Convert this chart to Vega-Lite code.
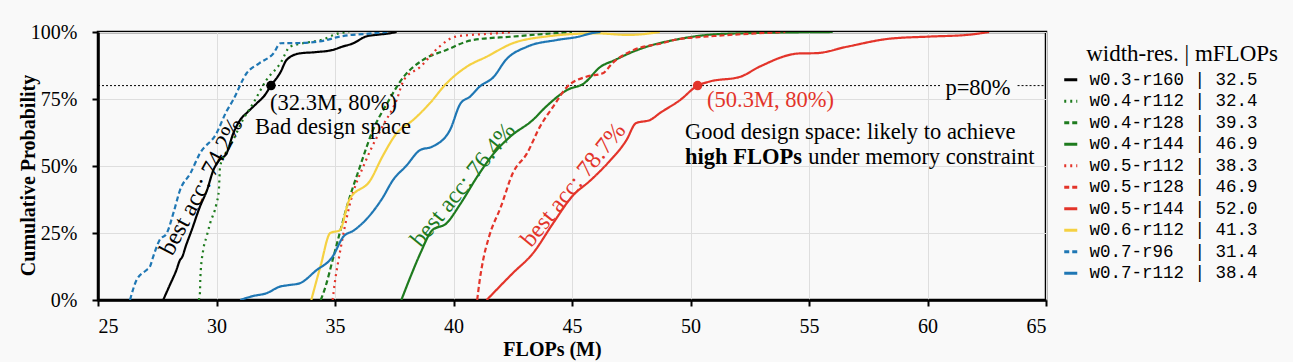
{
  "$schema": "https://vega.github.io/schema/vega-lite/v6.json",
  "width": 948,
  "height": 268,
  "autosize": {"type": "none"},
  "padding": {"left": 98, "top": 32, "right": 247, "bottom": 62},
  "background": "#f9f9f9",
  "title": {
    "text": "width-res. | mFLOPs", "anchor": "end", "align": "right", "frame": "group", "orient": "top",
    "offset": 0, "dx": 232, "dy": 55, "baseline": "middle",
    "font": "Liberation Serif", "fontSize": 23, "fontWeight": "normal", "color": "#000000"
  },
  "config": {
    "view": {"stroke": "#000000", "strokeWidth": 2.5, "fill": "#f9f9f9"},
    "axis": {
      "domainColor": "#000000", "domainWidth": 2.5,
      "tickColor": "#000000", "tickWidth": 2, "tickSize": 6,
      "gridColor": "#dedede", "gridWidth": 1,
      "labelFont": "Liberation Serif", "labelFontSize": 20, "labelColor": "#000000",
      "titleFont": "Liberation Serif", "titleFontSize": 20, "titleFontWeight": "bold", "titleColor": "#000000"
    },
    "legend": {
      "orient": "none", "legendX": 964, "legendY": 39, "padding": 0,
      "labelFont": "Liberation Mono", "labelFontSize": 17.5, "labelColor": "#000000", "labelLimit": 400,
      "labelOffset": 10, "rowPadding": 2.5,
      "symbolType": "stroke", "symbolSize": 170, "symbolStrokeWidth": 3
    }
  },
  "layer": [
    {
      "data": {"values": [
        {"x": 25, "x2": 60.6, "y": 0.8},
        {"x": 63.8, "x2": 65, "y": 0.8}
      ]},
      "mark": {"type": "rule", "color": "#000000", "strokeWidth": 1, "strokeDash": [2, 2]},
      "encoding": {
        "x": {"field": "x", "type": "quantitative"},
        "x2": {"field": "x2"},
        "y": {"field": "y", "type": "quantitative"}
      }
    },
    {
      "data": {"values": [
        {"s": "w0.3-r160 | 32.5", "x": 27.75, "y": 0},
        {"s": "w0.3-r160 | 32.5", "x": 28.0, "y": 0.05},
        {"s": "w0.3-r160 | 32.5", "x": 28.3, "y": 0.11},
        {"s": "w0.3-r160 | 32.5", "x": 28.46, "y": 0.149},
        {"s": "w0.3-r160 | 32.5", "x": 28.55, "y": 0.16},
        {"s": "w0.3-r160 | 32.5", "x": 28.7, "y": 0.2},
        {"s": "w0.3-r160 | 32.5", "x": 28.95, "y": 0.26},
        {"s": "w0.3-r160 | 32.5", "x": 29.3, "y": 0.348},
        {"s": "w0.3-r160 | 32.5", "x": 29.6, "y": 0.41},
        {"s": "w0.3-r160 | 32.5", "x": 29.87, "y": 0.485},
        {"s": "w0.3-r160 | 32.5", "x": 30.1, "y": 0.52},
        {"s": "w0.3-r160 | 32.5", "x": 30.43, "y": 0.548},
        {"s": "w0.3-r160 | 32.5", "x": 30.7, "y": 0.62},
        {"s": "w0.3-r160 | 32.5", "x": 31.0, "y": 0.672},
        {"s": "w0.3-r160 | 32.5", "x": 31.3, "y": 0.7},
        {"s": "w0.3-r160 | 32.5", "x": 31.7, "y": 0.734},
        {"s": "w0.3-r160 | 32.5", "x": 32.0, "y": 0.76},
        {"s": "w0.3-r160 | 32.5", "x": 32.3, "y": 0.8},
        {"s": "w0.3-r160 | 32.5", "x": 32.7, "y": 0.85},
        {"s": "w0.3-r160 | 32.5", "x": 32.96, "y": 0.896},
        {"s": "w0.3-r160 | 32.5", "x": 33.5, "y": 0.92},
        {"s": "w0.3-r160 | 32.5", "x": 34.2, "y": 0.925},
        {"s": "w0.3-r160 | 32.5", "x": 34.9, "y": 0.933},
        {"s": "w0.3-r160 | 32.5", "x": 35.3, "y": 0.945},
        {"s": "w0.3-r160 | 32.5", "x": 35.77, "y": 0.958},
        {"s": "w0.3-r160 | 32.5", "x": 36.3, "y": 0.983},
        {"s": "w0.3-r160 | 32.5", "x": 36.8, "y": 0.99},
        {"s": "w0.3-r160 | 32.5", "x": 37.3, "y": 0.995},
        {"s": "w0.3-r160 | 32.5", "x": 37.6, "y": 1.0},

        {"s": "w0.4-r112 | 32.4", "x": 29.25, "y": 0},
        {"s": "w0.4-r112 | 32.4", "x": 29.3, "y": 0.025},
        {"s": "w0.4-r112 | 32.4", "x": 29.32, "y": 0.087},
        {"s": "w0.4-r112 | 32.4", "x": 29.44, "y": 0.187},
        {"s": "w0.4-r112 | 32.4", "x": 29.58, "y": 0.236},
        {"s": "w0.4-r112 | 32.4", "x": 29.73, "y": 0.286},
        {"s": "w0.4-r112 | 32.4", "x": 30.0, "y": 0.36},
        {"s": "w0.4-r112 | 32.4", "x": 30.1, "y": 0.41},
        {"s": "w0.4-r112 | 32.4", "x": 30.15, "y": 0.497},
        {"s": "w0.4-r112 | 32.4", "x": 30.4, "y": 0.55},
        {"s": "w0.4-r112 | 32.4", "x": 30.7, "y": 0.597},
        {"s": "w0.4-r112 | 32.4", "x": 31.1, "y": 0.67},
        {"s": "w0.4-r112 | 32.4", "x": 31.55, "y": 0.734},
        {"s": "w0.4-r112 | 32.4", "x": 32.1, "y": 0.82},
        {"s": "w0.4-r112 | 32.4", "x": 32.7, "y": 0.884},
        {"s": "w0.4-r112 | 32.4", "x": 33.1, "y": 0.945},
        {"s": "w0.4-r112 | 32.4", "x": 33.65, "y": 0.958},
        {"s": "w0.4-r112 | 32.4", "x": 34.4, "y": 0.97},
        {"s": "w0.4-r112 | 32.4", "x": 35.2, "y": 0.996},
        {"s": "w0.4-r112 | 32.4", "x": 35.6, "y": 1.0},

        {"s": "w0.4-r128 | 39.3", "x": 34.4, "y": 0},
        {"s": "w0.4-r128 | 39.3", "x": 34.6, "y": 0.05},
        {"s": "w0.4-r128 | 39.3", "x": 34.9, "y": 0.149},
        {"s": "w0.4-r128 | 39.3", "x": 35.2, "y": 0.25},
        {"s": "w0.4-r128 | 39.3", "x": 35.5, "y": 0.348},
        {"s": "w0.4-r128 | 39.3", "x": 36.05, "y": 0.497},
        {"s": "w0.4-r128 | 39.3", "x": 36.6, "y": 0.634},
        {"s": "w0.4-r128 | 39.3", "x": 37.2, "y": 0.734},
        {"s": "w0.4-r128 | 39.3", "x": 37.9, "y": 0.833},
        {"s": "w0.4-r128 | 39.3", "x": 38.7, "y": 0.895},
        {"s": "w0.4-r128 | 39.3", "x": 39.7, "y": 0.933},
        {"s": "w0.4-r128 | 39.3", "x": 40.8, "y": 0.97},
        {"s": "w0.4-r128 | 39.3", "x": 42.5, "y": 0.983},
        {"s": "w0.4-r128 | 39.3", "x": 44.2, "y": 0.995},
        {"s": "w0.4-r128 | 39.3", "x": 45.0, "y": 1.0},

        {"s": "w0.4-r144 | 46.9", "x": 37.8, "y": 0},
        {"s": "w0.4-r144 | 46.9", "x": 38.2, "y": 0.09},
        {"s": "w0.4-r144 | 46.9", "x": 38.6, "y": 0.174},
        {"s": "w0.4-r144 | 46.9", "x": 39.1, "y": 0.26},
        {"s": "w0.4-r144 | 46.9", "x": 39.7, "y": 0.286},
        {"s": "w0.4-r144 | 46.9", "x": 40.3, "y": 0.36},
        {"s": "w0.4-r144 | 46.9", "x": 41.0, "y": 0.46},
        {"s": "w0.4-r144 | 46.9", "x": 41.7, "y": 0.547},
        {"s": "w0.4-r144 | 46.9", "x": 42.4, "y": 0.61},
        {"s": "w0.4-r144 | 46.9", "x": 43.35, "y": 0.672},
        {"s": "w0.4-r144 | 46.9", "x": 43.9, "y": 0.721},
        {"s": "w0.4-r144 | 46.9", "x": 44.8, "y": 0.784},
        {"s": "w0.4-r144 | 46.9", "x": 45.5, "y": 0.808},
        {"s": "w0.4-r144 | 46.9", "x": 46.2, "y": 0.87},
        {"s": "w0.4-r144 | 46.9", "x": 46.8, "y": 0.895},
        {"s": "w0.4-r144 | 46.9", "x": 47.4, "y": 0.92},
        {"s": "w0.4-r144 | 46.9", "x": 48.15, "y": 0.945},
        {"s": "w0.4-r144 | 46.9", "x": 49.3, "y": 0.97},
        {"s": "w0.4-r144 | 46.9", "x": 50.7, "y": 0.989},
        {"s": "w0.4-r144 | 46.9", "x": 52.1, "y": 0.995},
        {"s": "w0.4-r144 | 46.9", "x": 56.0, "y": 1.0},

        {"s": "w0.5-r112 | 38.3", "x": 34.9, "y": 0},
        {"s": "w0.5-r112 | 38.3", "x": 35.0, "y": 0.07},
        {"s": "w0.5-r112 | 38.3", "x": 35.2, "y": 0.174},
        {"s": "w0.5-r112 | 38.3", "x": 35.6, "y": 0.348},
        {"s": "w0.5-r112 | 38.3", "x": 36.3, "y": 0.52},
        {"s": "w0.5-r112 | 38.3", "x": 37.0, "y": 0.647},
        {"s": "w0.5-r112 | 38.3", "x": 37.6, "y": 0.746},
        {"s": "w0.5-r112 | 38.3", "x": 37.9, "y": 0.82},
        {"s": "w0.5-r112 | 38.3", "x": 38.6, "y": 0.87},
        {"s": "w0.5-r112 | 38.3", "x": 39.4, "y": 0.945},
        {"s": "w0.5-r112 | 38.3", "x": 40.1, "y": 0.983},
        {"s": "w0.5-r112 | 38.3", "x": 41.8, "y": 0.995},
        {"s": "w0.5-r112 | 38.3", "x": 42.5, "y": 1.0},

        {"s": "w0.5-r128 | 46.9", "x": 41.0, "y": 0},
        {"s": "w0.5-r128 | 46.9", "x": 41.1, "y": 0.07},
        {"s": "w0.5-r128 | 46.9", "x": 41.25, "y": 0.149},
        {"s": "w0.5-r128 | 46.9", "x": 41.5, "y": 0.236},
        {"s": "w0.5-r128 | 46.9", "x": 42.0, "y": 0.348},
        {"s": "w0.5-r128 | 46.9", "x": 42.5, "y": 0.473},
        {"s": "w0.5-r128 | 46.9", "x": 43.1, "y": 0.547},
        {"s": "w0.5-r128 | 46.9", "x": 43.65, "y": 0.647},
        {"s": "w0.5-r128 | 46.9", "x": 44.2, "y": 0.721},
        {"s": "w0.5-r128 | 46.9", "x": 44.8, "y": 0.796},
        {"s": "w0.5-r128 | 46.9", "x": 45.6, "y": 0.833},
        {"s": "w0.5-r128 | 46.9", "x": 46.3, "y": 0.846},
        {"s": "w0.5-r128 | 46.9", "x": 46.7, "y": 0.883},
        {"s": "w0.5-r128 | 46.9", "x": 47.6, "y": 0.933},
        {"s": "w0.5-r128 | 46.9", "x": 48.8, "y": 0.958},
        {"s": "w0.5-r128 | 46.9", "x": 49.3, "y": 0.97},
        {"s": "w0.5-r128 | 46.9", "x": 51.0, "y": 0.985},
        {"s": "w0.5-r128 | 46.9", "x": 52.8, "y": 0.995},
        {"s": "w0.5-r128 | 46.9", "x": 54.0, "y": 1.0},

        {"s": "w0.5-r144 | 52.0", "x": 41.4, "y": 0},
        {"s": "w0.5-r144 | 52.0", "x": 42.5, "y": 0.1},
        {"s": "w0.5-r144 | 52.0", "x": 43.35, "y": 0.174},
        {"s": "w0.5-r144 | 52.0", "x": 44.2, "y": 0.286},
        {"s": "w0.5-r144 | 52.0", "x": 45.0, "y": 0.386},
        {"s": "w0.5-r144 | 52.0", "x": 45.8, "y": 0.448},
        {"s": "w0.5-r144 | 52.0", "x": 46.5, "y": 0.51},
        {"s": "w0.5-r144 | 52.0", "x": 47.3, "y": 0.597},
        {"s": "w0.5-r144 | 52.0", "x": 47.7, "y": 0.66},
        {"s": "w0.5-r144 | 52.0", "x": 48.3, "y": 0.672},
        {"s": "w0.5-r144 | 52.0", "x": 48.7, "y": 0.697},
        {"s": "w0.5-r144 | 52.0", "x": 49.56, "y": 0.746},
        {"s": "w0.5-r144 | 52.0", "x": 50.3, "y": 0.8},
        {"s": "w0.5-r144 | 52.0", "x": 50.8, "y": 0.815},
        {"s": "w0.5-r144 | 52.0", "x": 52.1, "y": 0.833},
        {"s": "w0.5-r144 | 52.0", "x": 52.9, "y": 0.87},
        {"s": "w0.5-r144 | 52.0", "x": 54.6, "y": 0.92},
        {"s": "w0.5-r144 | 52.0", "x": 55.3, "y": 0.921},
        {"s": "w0.5-r144 | 52.0", "x": 56.6, "y": 0.945},
        {"s": "w0.5-r144 | 52.0", "x": 58.4, "y": 0.975},
        {"s": "w0.5-r144 | 52.0", "x": 60.1, "y": 0.983},
        {"s": "w0.5-r144 | 52.0", "x": 61.65, "y": 0.989},
        {"s": "w0.5-r144 | 52.0", "x": 62.6, "y": 1.0},

        {"s": "w0.6-r112 | 41.3", "x": 34.0, "y": 0},
        {"s": "w0.6-r112 | 41.3", "x": 34.4, "y": 0.13},
        {"s": "w0.6-r112 | 41.3", "x": 34.8, "y": 0.25},
        {"s": "w0.6-r112 | 41.3", "x": 35.2, "y": 0.26},
        {"s": "w0.6-r112 | 41.3", "x": 35.6, "y": 0.373},
        {"s": "w0.6-r112 | 41.3", "x": 36.5, "y": 0.448},
        {"s": "w0.6-r112 | 41.3", "x": 37.0, "y": 0.535},
        {"s": "w0.6-r112 | 41.3", "x": 37.6, "y": 0.622},
        {"s": "w0.6-r112 | 41.3", "x": 38.3, "y": 0.672},
        {"s": "w0.6-r112 | 41.3", "x": 39.0, "y": 0.734},
        {"s": "w0.6-r112 | 41.3", "x": 39.7, "y": 0.808},
        {"s": "w0.6-r112 | 41.3", "x": 40.55, "y": 0.87},
        {"s": "w0.6-r112 | 41.3", "x": 41.4, "y": 0.908},
        {"s": "w0.6-r112 | 41.3", "x": 42.5, "y": 0.958},
        {"s": "w0.6-r112 | 41.3", "x": 43.9, "y": 0.983},
        {"s": "w0.6-r112 | 41.3", "x": 46.0, "y": 0.995},
        {"s": "w0.6-r112 | 41.3", "x": 47.4, "y": 0.989},
        {"s": "w0.6-r112 | 41.3", "x": 48.7, "y": 1.0},

        {"s": "w0.7-r96\u00a0 | 31.4", "x": 26.35, "y": 0},
        {"s": "w0.7-r96\u00a0 | 31.4", "x": 26.63, "y": 0.075},
        {"s": "w0.7-r96\u00a0 | 31.4", "x": 27.05, "y": 0.112},
        {"s": "w0.7-r96\u00a0 | 31.4", "x": 27.19, "y": 0.124},
        {"s": "w0.7-r96\u00a0 | 31.4", "x": 27.33, "y": 0.162},
        {"s": "w0.7-r96\u00a0 | 31.4", "x": 27.6, "y": 0.224},
        {"s": "w0.7-r96\u00a0 | 31.4", "x": 27.9, "y": 0.249},
        {"s": "w0.7-r96\u00a0 | 31.4", "x": 28.2, "y": 0.33},
        {"s": "w0.7-r96\u00a0 | 31.4", "x": 28.46, "y": 0.41},
        {"s": "w0.7-r96\u00a0 | 31.4", "x": 28.9, "y": 0.473},
        {"s": "w0.7-r96\u00a0 | 31.4", "x": 29.3, "y": 0.547},
        {"s": "w0.7-r96\u00a0 | 31.4", "x": 30.0, "y": 0.622},
        {"s": "w0.7-r96\u00a0 | 31.4", "x": 30.4, "y": 0.7},
        {"s": "w0.7-r96\u00a0 | 31.4", "x": 30.7, "y": 0.746},
        {"s": "w0.7-r96\u00a0 | 31.4", "x": 31.27, "y": 0.846},
        {"s": "w0.7-r96\u00a0 | 31.4", "x": 31.8, "y": 0.883},
        {"s": "w0.7-r96\u00a0 | 31.4", "x": 32.4, "y": 0.92},
        {"s": "w0.7-r96\u00a0 | 31.4", "x": 32.7, "y": 0.958},
        {"s": "w0.7-r96\u00a0 | 31.4", "x": 33.5, "y": 0.959},
        {"s": "w0.7-r96\u00a0 | 31.4", "x": 34.65, "y": 0.97},
        {"s": "w0.7-r96\u00a0 | 31.4", "x": 35.2, "y": 0.983},
        {"s": "w0.7-r96\u00a0 | 31.4", "x": 36.6, "y": 0.995},
        {"s": "w0.7-r96\u00a0 | 31.4", "x": 37.2, "y": 1.0},

        {"s": "w0.7-r112 | 38.4", "x": 31.0, "y": 0},
        {"s": "w0.7-r112 | 38.4", "x": 31.55, "y": 0.015},
        {"s": "w0.7-r112 | 38.4", "x": 32.1, "y": 0.025},
        {"s": "w0.7-r112 | 38.4", "x": 32.68, "y": 0.05},
        {"s": "w0.7-r112 | 38.4", "x": 33.0, "y": 0.055},
        {"s": "w0.7-r112 | 38.4", "x": 33.5, "y": 0.062},
        {"s": "w0.7-r112 | 38.4", "x": 34.2, "y": 0.11},
        {"s": "w0.7-r112 | 38.4", "x": 34.9, "y": 0.162},
        {"s": "w0.7-r112 | 38.4", "x": 35.35, "y": 0.236},
        {"s": "w0.7-r112 | 38.4", "x": 35.8, "y": 0.26},
        {"s": "w0.7-r112 | 38.4", "x": 36.3, "y": 0.299},
        {"s": "w0.7-r112 | 38.4", "x": 37.0, "y": 0.38},
        {"s": "w0.7-r112 | 38.4", "x": 37.45, "y": 0.448},
        {"s": "w0.7-r112 | 38.4", "x": 38.0, "y": 0.5},
        {"s": "w0.7-r112 | 38.4", "x": 38.6, "y": 0.56},
        {"s": "w0.7-r112 | 38.4", "x": 39.1, "y": 0.572},
        {"s": "w0.7-r112 | 38.4", "x": 39.85, "y": 0.634},
        {"s": "w0.7-r112 | 38.4", "x": 40.3, "y": 0.734},
        {"s": "w0.7-r112 | 38.4", "x": 40.7, "y": 0.759},
        {"s": "w0.7-r112 | 38.4", "x": 41.1, "y": 0.796},
        {"s": "w0.7-r112 | 38.4", "x": 41.7, "y": 0.833},
        {"s": "w0.7-r112 | 38.4", "x": 42.2, "y": 0.895},
        {"s": "w0.7-r112 | 38.4", "x": 43.1, "y": 0.945},
        {"s": "w0.7-r112 | 38.4", "x": 44.35, "y": 0.97},
        {"s": "w0.7-r112 | 38.4", "x": 45.3, "y": 0.983},
        {"s": "w0.7-r112 | 38.4", "x": 45.8, "y": 0.995},
        {"s": "w0.7-r112 | 38.4", "x": 46.2, "y": 1.0}
      ]},
      "mark": {"type": "line", "strokeWidth": 2.2, "clip": true, "interpolate": "monotone"},
      "encoding": {
        "x": {
          "field": "x", "type": "quantitative",
          "scale": {"domain": [25, 65], "nice": false, "zero": false},
          "axis": {
            "values": [25, 30, 35, 40, 45, 50, 55, 60, 65],
            "title": "FLOPs (M)", "labelPadding": 10,
            "titleX": 454, "titleY": 49, "titleBaseline": "middle", "titleAnchor": null
          }
        },
        "y": {
          "field": "y", "type": "quantitative",
          "scale": {"domain": [0, 1], "nice": false},
          "axis": {
            "values": [0, 0.25, 0.5, 0.75, 1], "format": ".0%",
            "title": "Cumulative Probability", "labelPadding": 15,
            "titleX": -70, "titleY": 143, "titleAngle": -90, "titleBaseline": "middle", "titleAlign": "center"
          }
        },
        "color": {
          "field": "s", "type": "nominal",
          "scale": {
            "domain": ["w0.3-r160 | 32.5", "w0.4-r112 | 32.4", "w0.4-r128 | 39.3", "w0.4-r144 | 46.9", "w0.5-r112 | 38.3", "w0.5-r128 | 46.9", "w0.5-r144 | 52.0", "w0.6-r112 | 41.3", "w0.7-r96\u00a0 | 31.4", "w0.7-r112 | 38.4"],
            "range": ["#000000", "#1e7b1e", "#1e7b1e", "#1e7b1e", "#e3342a", "#e3342a", "#e3342a", "#f5d142", "#1f77b4", "#1f77b4"]
          },
          "legend": {"title": null}
        },
        "strokeDash": {
          "field": "s", "type": "nominal",
          "scale": {
            "domain": ["w0.3-r160 | 32.5", "w0.4-r112 | 32.4", "w0.4-r128 | 39.3", "w0.4-r144 | 46.9", "w0.5-r112 | 38.3", "w0.5-r128 | 46.9", "w0.5-r144 | 52.0", "w0.6-r112 | 41.3", "w0.7-r96\u00a0 | 31.4", "w0.7-r112 | 38.4"],
            "range": [[1, 0], [2, 4], [5, 3], [1, 0], [2, 4], [5, 3], [1, 0], [1, 0], [5, 3], [1, 0]]
          },
          "legend": {"title": null}
        }
      }
    },
    {
      "data": {"values": [
        {"x": 32.3, "y": 0.8, "c": "k"},
        {"x": 50.3, "y": 0.8, "c": "r"}
      ]},
      "mark": {"type": "circle", "size": 90, "opacity": 1},
      "encoding": {
        "x": {"field": "x", "type": "quantitative"},
        "y": {"field": "y", "type": "quantitative"},
        "fill": {"field": "c", "type": "nominal", "scale": {"domain": ["k", "r"], "range": ["#000000", "#e3342a"]}, "legend": null}
      }
    },
    {
      "data": {"values": [
        {"t": "(32.3M, 80%)", "x": 32.26, "y": 0.735},
        {"t": "Bad design space", "x": 31.62, "y": 0.647},
        {"t": "Good design space: likely to achieve", "x": 49.77, "y": 0.628},
        {"t": "under memory constraint", "x": 54.97, "y": 0.535}
      ]},
      "mark": {"type": "text", "font": "Liberation Serif", "fontSize": 22.5, "align": "left", "baseline": "middle", "color": "#000000"},
      "encoding": {
        "x": {"field": "x", "type": "quantitative"},
        "y": {"field": "y", "type": "quantitative"},
        "text": {"field": "t"}
      }
    },
    {
      "data": {"values": [
        {"t": "p=80%", "x": 62.13, "y": 0.791}
      ]},
      "mark": {"type": "text", "font": "Liberation Serif", "fontSize": 22.5, "align": "center", "baseline": "middle", "color": "#000000"},
      "encoding": {
        "x": {"field": "x", "type": "quantitative"},
        "y": {"field": "y", "type": "quantitative"},
        "text": {"field": "t"}
      }
    },
    {
      "data": {"values": [
        {"t": "high FLOPs", "x": 49.77, "y": 0.535}
      ]},
      "mark": {"type": "text", "font": "Liberation Serif", "fontSize": 22.5, "fontWeight": "bold", "align": "left", "baseline": "middle", "color": "#000000"},
      "encoding": {
        "x": {"field": "x", "type": "quantitative"},
        "y": {"field": "y", "type": "quantitative"},
        "text": {"field": "t"}
      }
    },
    {
      "data": {"values": [
        {"t": "(50.3M, 80%)", "x": 50.7, "y": 0.746}
      ]},
      "mark": {"type": "text", "font": "Liberation Serif", "fontSize": 22.5, "align": "left", "baseline": "middle", "color": "#e3342a"},
      "encoding": {
        "x": {"field": "x", "type": "quantitative"},
        "y": {"field": "y", "type": "quantitative"},
        "text": {"field": "t"}
      }
    },
    {
      "data": {"values": [
        {"t": "best acc: 74.2%", "x": 29.37, "y": 0.423}
      ]},
      "mark": {"type": "text", "font": "Liberation Serif", "fontSize": 24, "align": "center", "baseline": "middle", "angle": -62, "color": "#000000"},
      "encoding": {
        "x": {"field": "x", "type": "quantitative"},
        "y": {"field": "y", "type": "quantitative"},
        "text": {"field": "t"}
      }
    },
    {
      "data": {"values": [
        {"t": "best acc: 76.4%", "x": 40.41, "y": 0.429}
      ]},
      "mark": {"type": "text", "font": "Liberation Serif", "fontSize": 24, "align": "center", "baseline": "middle", "angle": -51, "color": "#1e7b1e"},
      "encoding": {
        "x": {"field": "x", "type": "quantitative"},
        "y": {"field": "y", "type": "quantitative"},
        "text": {"field": "t"}
      }
    },
    {
      "data": {"values": [
        {"t": "best acc: 78.7%", "x": 45.06, "y": 0.429}
      ]},
      "mark": {"type": "text", "font": "Liberation Serif", "fontSize": 24, "align": "center", "baseline": "middle", "angle": -51, "color": "#e3342a"},
      "encoding": {
        "x": {"field": "x", "type": "quantitative"},
        "y": {"field": "y", "type": "quantitative"},
        "text": {"field": "t"}
      }
    }
  ]
}
